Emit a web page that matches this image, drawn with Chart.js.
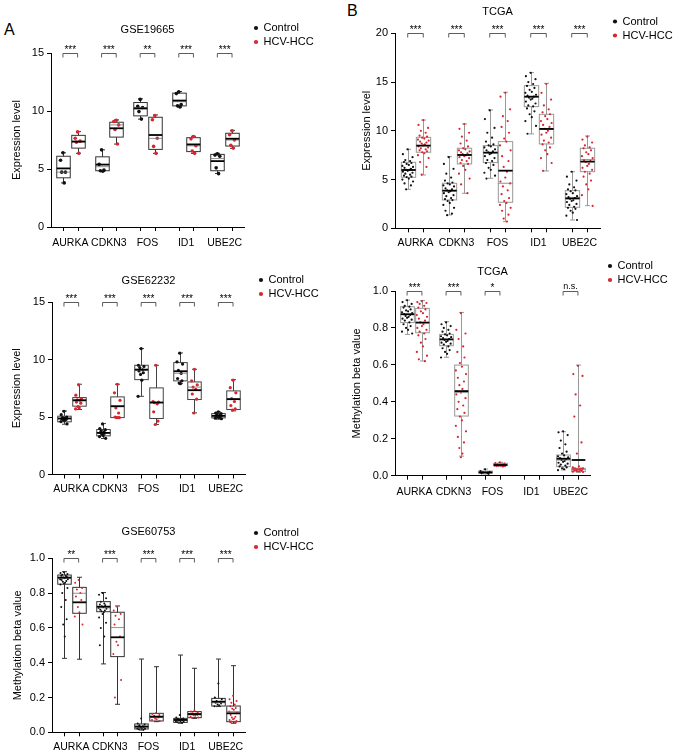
<!DOCTYPE html>
<html>
<head>
<meta charset="utf-8">
<script src="https://cdn.jsdelivr.net/npm/chart.js@4.4.1/dist/chart.umd.min.js"></script>
<style>
  body { margin: 0; background: #fff; overflow: hidden; }
  #fig { position: relative; width: 677px; height: 754px; font-family: "Liberation Sans", Arial, sans-serif; }
  .panel { position: absolute; }
  .tag { position: absolute; font-size: 16px; line-height: 16px; color: #000; }
</style>
</head>
<body>
<div id="fig">
  <div class="tag" style="left:4px;top:22px">A</div>
  <div class="tag" style="left:347px;top:3px">B</div>
  <div class="panel" style="left:0;top:0"><canvas id="c1" width="315" height="250"></canvas></div>
  <div class="panel" style="left:0;top:250px"><canvas id="c2" width="320" height="248"></canvas></div>
  <div class="panel" style="left:0;top:500px"><canvas id="c3" width="315" height="254"></canvas></div>
  <div class="panel" style="left:340px;top:0"><canvas id="c4" width="334" height="252"></canvas></div>
  <div class="panel" style="left:340px;top:252px"><canvas id="c5" width="329" height="248"></canvas></div>
</div>
<script>
const genes = ['AURKA', 'CDKN3', 'FOS', 'ID1', 'UBE2C'];

// box summaries, one per gene: [min, q1, median, q3, max, mean]
const gse19665CtrlBox = [[3.8, 4.24, 4.73, 6.1, 6.4, 5.05], [4.8, 4.85, 5.2, 6.05, 6.65, 5.38], [9.3, 9.58, 10.3, 10.73, 11.05, 10.22], [10.33, 10.44, 10.8, 11.54, 11.68, 10.9], [4.61, 4.85, 5.9, 6.26, 6.35, 5.68]];
const gse19665HccBox = [[6.35, 6.8, 7.4, 7.9, 8.22, 7.36], [7.15, 7.75, 8.8, 9.03, 9.23, 8.51], [6.35, 6.69, 7.64, 9.46, 9.66, 7.93], [6.35, 6.5, 7.0, 7.7, 7.82, 7.12], [6.78, 6.98, 7.5, 8.08, 8.33, 7.61]];
const gse19665CtrlPts = [[6.4, 5.76, 4.73, 4.73, 3.8], [6.65, 5.4, 4.9, 4.85, 4.8], [11.0, 10.4, 10.3, 9.95, 9.3], [11.65, 11.5, 10.55, 10.45, 10.35], [6.3, 6.2, 6.1, 5.1, 4.6]];
const gse19665HccPts = [[8.2, 7.65, 7.4, 7.3, 6.35], [9.2, 9.1, 8.8, 8.4, 7.15], [9.6, 9.25, 7.65, 6.95, 6.35], [7.8, 7.6, 7.0, 6.55, 6.35], [8.3, 7.95, 7.5, 7.05, 6.8]];
const gse19665Sig = ['***', '***', '**', '***', '***'];

const gse62232CtrlBox = [[4.37, 4.58, 4.87, 5.07, 5.53, 4.87], [3.13, 3.36, 3.62, 3.91, 4.43, 3.62], [6.8, 8.25, 9.05, 9.5, 10.95, 9.12], [7.9, 8.14, 8.8, 9.73, 10.57, 8.98], [4.81, 4.92, 5.1, 5.3, 5.44, 5.1]];
const gse62232HccBox = [[5.65, 5.94, 6.4, 6.69, 7.85, 6.46], [4.92, 4.95, 5.9, 6.75, 7.85, 5.94], [4.34, 4.87, 6.25, 7.53, 9.5, 6.26], [5.36, 6.52, 7.6, 8.05, 9.15, 7.33], [5.53, 5.65, 6.6, 7.27, 8.25, 6.55]];
const gse62232CtrlPts = [[5.5, 5.2, 5.0, 4.95, 4.9, 4.85, 4.8, 4.75, 4.7, 4.6, 4.4], [4.4, 4.0, 3.9, 3.8, 3.7, 3.65, 3.6, 3.5, 3.4, 3.3, 3.15], [10.95, 9.5, 9.4, 9.3, 9.1, 9.0, 8.85, 8.7, 8.2, 6.8], [10.55, 9.8, 9.6, 9.05, 8.8, 8.35, 8.15, 7.95, 7.9], [5.45, 5.35, 5.3, 5.2, 5.15, 5.1, 5.05, 5.0, 4.95, 4.9, 4.85]];
const gse62232HccPts = [[7.8, 6.9, 6.6, 6.5, 6.45, 6.3, 6.2, 5.9, 5.8, 5.7], [7.85, 7.1, 6.45, 5.8, 5.35, 5.0, 4.95, 4.95, 4.95], [9.5, 6.35, 6.3, 6.25, 6.15, 5.45, 4.65, 4.35], [9.15, 8.15, 7.8, 7.6, 7.4, 7.0, 6.55, 5.35], [8.2, 7.55, 7.1, 6.6, 6.35, 6.0, 5.7, 5.6]];
const gse62232Sig = ['***', '***', '***', '***', '***'];

const gse60753CtrlBox = [[0.425, 0.851, 0.885, 0.904, 0.923, 0.889], [0.393, 0.693, 0.715, 0.751, 0.803, 0.722], [0.013, 0.019, 0.03, 0.048, 0.421, 0.033], [0.052, 0.057, 0.07, 0.08, 0.444, 0.071], [0.148, 0.151, 0.17, 0.195, 0.421, 0.176]];
const gse60753HccBox = [[0.42, 0.684, 0.799, 0.833, 0.891, 0.747], [0.161, 0.435, 0.602, 0.69, 0.726, 0.546], [0.061, 0.065, 0.085, 0.109, 0.377, 0.09], [0.08, 0.084, 0.1, 0.119, 0.368, 0.105], [0.052, 0.061, 0.119, 0.151, 0.383, 0.109]];
const gse60753CtrlPts = [[0.92, 0.915, 0.91, 0.905, 0.9, 0.9, 0.895, 0.89, 0.885, 0.88, 0.88, 0.875, 0.87, 0.865, 0.86, 0.855, 0.85, 0.83, 0.8, 0.76, 0.72, 0.65, 0.62, 0.55], [0.8, 0.79, 0.77, 0.75, 0.74, 0.735, 0.73, 0.725, 0.72, 0.715, 0.71, 0.705, 0.7, 0.695, 0.69, 0.68, 0.66, 0.63, 0.6, 0.55, 0.5], [0.08, 0.05, 0.045, 0.04, 0.035, 0.033, 0.03, 0.028, 0.025, 0.022, 0.02, 0.018, 0.015], [0.1, 0.085, 0.08, 0.078, 0.075, 0.072, 0.07, 0.068, 0.065, 0.062, 0.06, 0.058, 0.055], [0.28, 0.2, 0.19, 0.18, 0.175, 0.17, 0.165, 0.16, 0.155, 0.15]];
const gse60753HccPts = [[0.875, 0.86, 0.83, 0.82, 0.8, 0.78, 0.76, 0.72, 0.69, 0.665, 0.62], [0.72, 0.7, 0.68, 0.67, 0.65, 0.62, 0.55, 0.52, 0.5, 0.45, 0.3, 0.2], [0.11, 0.105, 0.1, 0.095, 0.09, 0.088, 0.085, 0.08, 0.075, 0.07, 0.065], [0.125, 0.12, 0.115, 0.11, 0.108, 0.105, 0.1, 0.098, 0.095, 0.09, 0.085, 0.082], [0.21, 0.19, 0.18, 0.17, 0.16, 0.15, 0.14, 0.135, 0.13, 0.12, 0.11, 0.1, 0.09, 0.085, 0.08, 0.075, 0.07, 0.065, 0.062, 0.06, 0.058, 0.055]];
const gse60753Sig = ['**', '***', '***', '***', '***'];

const tcgaExprCtrlBox = [[4.0, 5.23, 5.98, 6.77, 8.1, 5.98], [1.37, 2.91, 3.86, 4.62, 7.35, 3.86], [5.13, 6.74, 7.76, 8.48, 12.14, 7.76], [9.68, 12.48, 13.5, 14.63, 15.97, 13.5], [0.85, 2.15, 3.0, 3.86, 5.81, 3.08]];
const tcgaExprHccBox = [[5.47, 7.8, 8.48, 9.33, 11.1, 8.48], [3.59, 6.6, 7.52, 8.21, 10.7, 7.52], [0.68, 2.67, 4.62, 8.89, 13.95, 5.91], [5.88, 8.65, 10.19, 11.69, 14.87, 10.19], [2.32, 5.81, 7.05, 8.21, 9.47, 6.84]];
const tcgaExprCtrlPts = [
  [8.1, 7.6, 7.3, 7.0, 6.9, 6.8, 6.7, 6.6, 6.5, 6.4, 6.3, 6.2, 6.1, 6.0, 6.0, 5.9, 5.8, 5.7, 5.6, 5.5, 5.4, 5.3, 5.25, 5.1, 5.0, 4.8, 4.6, 4.4, 4.0],
  [7.3, 6.6, 6.1, 5.6, 5.2, 4.9, 4.7, 4.6, 4.5, 4.4, 4.3, 4.1, 4.0, 3.9, 3.8, 3.7, 3.6, 3.4, 3.3, 3.1, 3.0, 2.9, 2.8, 2.6, 2.4, 2.1, 1.8, 1.5, 1.35],
  [12.1, 11.2, 10.3, 9.8, 9.3, 8.9, 8.6, 8.5, 8.4, 8.3, 8.1, 8.0, 7.9, 7.8, 7.7, 7.6, 7.4, 7.2, 7.0, 6.9, 6.7, 6.5, 6.2, 6.0, 5.7, 5.4, 5.1],
  [15.95, 15.6, 15.3, 15.0, 14.8, 14.6, 14.4, 14.2, 14.0, 13.9, 13.7, 13.6, 13.5, 13.4, 13.3, 13.2, 13.0, 12.8, 12.6, 12.5, 12.3, 12.0, 11.7, 11.4, 11.0, 10.5, 9.7],
  [5.8, 5.3, 4.9, 4.5, 4.2, 4.0, 3.9, 3.8, 3.6, 3.5, 3.3, 3.2, 3.1, 3.0, 2.9, 2.8, 2.7, 2.5, 2.4, 2.2, 2.1, 2.0, 1.8, 1.6, 1.3, 0.85]
];
const tcgaExprHccPts = [
  [11.1, 10.6, 10.3, 10.0, 9.8, 9.5, 9.4, 9.3, 9.2, 9.1, 9.0, 8.9, 8.8, 8.7, 8.6, 8.5, 8.4, 8.3, 8.2, 8.1, 8.0, 7.9, 7.8, 7.7, 7.5, 7.2, 6.8, 6.3, 5.5],
  [10.7, 10.2, 9.8, 9.4, 9.0, 8.7, 8.4, 8.2, 8.1, 8.0, 7.9, 7.8, 7.7, 7.6, 7.5, 7.4, 7.3, 7.2, 7.0, 6.9, 6.7, 6.6, 6.4, 6.0, 5.6, 5.1, 4.5, 3.6],
  [13.9, 13.5, 12.2, 11.5, 11.0, 10.4, 9.8, 9.2, 8.9, 8.5, 8.0, 7.4, 6.9, 6.3, 5.8, 5.2, 4.8, 4.6, 4.3, 3.9, 3.5, 3.1, 2.8, 2.6, 2.4, 2.1, 1.8, 1.4, 1.0, 0.7],
  [14.8, 13.9, 13.2, 12.6, 12.2, 11.9, 11.7, 11.5, 11.2, 11.0, 10.8, 10.6, 10.4, 10.2, 10.0, 9.8, 9.6, 9.3, 9.0, 8.8, 8.6, 8.3, 8.0, 7.6, 7.2, 6.7, 5.9],
  [9.4, 9.1, 8.8, 8.5, 8.3, 8.2, 8.0, 7.8, 7.6, 7.4, 7.2, 7.0, 6.9, 6.8, 6.6, 6.4, 6.2, 6.0, 5.8, 5.6, 5.3, 4.9, 4.5, 4.0, 3.4, 2.3]
];
const tcgaExprSig = ['***', '***', '***', '***', '***'];

const tcgaMethCtrlBox = [[0.765, 0.829, 0.874, 0.915, 0.951, 0.874], [0.641, 0.704, 0.738, 0.765, 0.834, 0.738], [0.009, 0.013, 0.018, 0.025, 0.036, 0.018], null, [0.031, 0.049, 0.085, 0.112, 0.238, 0.092]];
const tcgaMethHccBox = [[0.621, 0.774, 0.829, 0.906, 0.948, 0.829], [0.106, 0.323, 0.45, 0.599, 0.884, 0.458], [0.049, 0.054, 0.058, 0.067, 0.072, 0.058], null, [0.018, 0.022, 0.035, 0.04, 0.599, 0.085]];
const tcgaMethCtrlPts = [
  [0.95, 0.94, 0.93, 0.92, 0.915, 0.91, 0.9, 0.895, 0.89, 0.885, 0.88, 0.875, 0.87, 0.865, 0.86, 0.855, 0.85, 0.845, 0.84, 0.83, 0.82, 0.81, 0.8, 0.79, 0.78, 0.77],
  [0.83, 0.82, 0.81, 0.8, 0.79, 0.78, 0.77, 0.765, 0.76, 0.755, 0.75, 0.745, 0.74, 0.735, 0.73, 0.725, 0.72, 0.715, 0.71, 0.7, 0.69, 0.68, 0.67, 0.66, 0.64],
  [0.035, 0.025, 0.02, 0.018, 0.015, 0.013, 0.01],
  [],
  [0.24, 0.235, 0.22, 0.19, 0.17, 0.15, 0.13, 0.12, 0.11, 0.105, 0.1, 0.095, 0.09, 0.085, 0.08, 0.075, 0.07, 0.065, 0.06, 0.055, 0.05, 0.045, 0.04, 0.035, 0.03]
];
const tcgaMethHccPts = [
  [0.945, 0.94, 0.935, 0.93, 0.92, 0.91, 0.9, 0.89, 0.88, 0.87, 0.86, 0.85, 0.84, 0.83, 0.82, 0.81, 0.8, 0.79, 0.78, 0.77, 0.76, 0.74, 0.72, 0.7, 0.67, 0.65, 0.63, 0.62],
  [0.88, 0.79, 0.77, 0.74, 0.7, 0.67, 0.64, 0.61, 0.59, 0.57, 0.55, 0.53, 0.51, 0.49, 0.47, 0.45, 0.44, 0.42, 0.4, 0.38, 0.36, 0.34, 0.32, 0.3, 0.27, 0.24, 0.21, 0.18, 0.15, 0.12, 0.1],
  [0.072, 0.068, 0.065, 0.062, 0.06, 0.058, 0.057, 0.056, 0.055, 0.054, 0.053, 0.052, 0.05],
  [],
  [0.595, 0.55, 0.54, 0.44, 0.38, 0.32, 0.18, 0.12, 0.05, 0.045, 0.04, 0.04, 0.038, 0.036, 0.035, 0.035, 0.034, 0.033, 0.032, 0.03, 0.03, 0.028, 0.026, 0.024, 0.022, 0.02]
];
const tcgaMethSig = ['***', '***', '*', null, 'n.s.'];

const FONT = "'Liberation Sans', Arial, sans-serif";
const RED = '#d7262e';
const OFF = 0.19;     // control / HCV-HCC offset from the gene position
const BOXW = 0.35;    // box width in x units
const jitter = [0, -0.9, 0.9, -0.45, 0.45, -0.7, 0.7, -0.2, 0.2, -1, 1, -0.6, 0.6, -0.3, 0.3];

Chart.defaults.font.family = FONT;
Chart.defaults.color = '#000';

function toPoints(groups, off, spread) {
  const out = [];
  groups.forEach((vals, i) => {
    vals.forEach((v, j) => out.push({ x: i + off + jitter[j % jitter.length] * spread, y: v }));
  });
  return out;
}

function boxPlugin(cfg) {
  const series = [[cfg.ctrlBox, -OFF], [cfg.hccBox, OFF]];
  return {
    id: 'boxes',
    beforeDatasetsDraw(chart) {
      const { ctx, scales: { x, y } } = chart;
      const half = x.getPixelForValue(BOXW / 2) - x.getPixelForValue(0);
      ctx.save();
      ctx.strokeStyle = cfg.boxColor;
      ctx.lineWidth = 1;
      series.forEach(([boxes, off]) => {
        boxes.forEach((b, i) => {
          if (!b) return;
          const cx = Math.round(x.getPixelForValue(i + off)) + 0.5;
          const [mn, q1, , q3, mx] = b.map(v => y.getPixelForValue(v));
          ctx.beginPath();
          ctx.moveTo(cx, mx); ctx.lineTo(cx, q3);
          ctx.moveTo(cx, q1); ctx.lineTo(cx, mn);
          ctx.moveTo(cx - 2.5, mx); ctx.lineTo(cx + 2.5, mx);
          ctx.moveTo(cx - 2.5, mn); ctx.lineTo(cx + 2.5, mn);
          ctx.stroke();
          ctx.strokeRect(cx - half, q3, half * 2, q1 - q3);
        });
      });
      ctx.restore();
    },
    afterDatasetsDraw(chart) {
      const { ctx, scales: { x, y } } = chart;
      const half = x.getPixelForValue(BOXW / 2) - x.getPixelForValue(0);
      ctx.save();
      series.forEach(([boxes, off]) => {
        boxes.forEach((b, i) => {
          if (!b) return;
          const cx = Math.round(x.getPixelForValue(i + off)) + 0.5;
          const md = y.getPixelForValue(b[2]);
          const mean = y.getPixelForValue(b[5]);
          ctx.strokeStyle = '#777';
          ctx.lineWidth = 0.8;
          ctx.beginPath(); ctx.moveTo(cx - half, md); ctx.lineTo(cx + half, md); ctx.stroke();
          ctx.strokeStyle = '#000';
          ctx.lineWidth = 1.8;
          ctx.beginPath(); ctx.moveTo(cx - half, mean); ctx.lineTo(cx + half, mean); ctx.stroke();
        });
      });
      ctx.restore();
    },
    afterDraw(chart) {
      const { ctx, chartArea, scales: { x, y } } = chart;
      ctx.save();
      // tick marks under every box position
      ctx.strokeStyle = '#000';
      ctx.lineWidth = 1;
      ctx.beginPath();
      genes.forEach((g, i) => {
        [-OFF, OFF].forEach(off => {
          const px = Math.round(x.getPixelForValue(i + off)) + 0.5;
          ctx.moveTo(px, chartArea.bottom); ctx.lineTo(px, chartArea.bottom + 4);
        });
      });
      ctx.stroke();
      // significance brackets
      const top = Math.round(y.getPixelForValue(cfg.yMax)) + 0.5;
      ctx.strokeStyle = '#333';
      ctx.lineWidth = 0.8;
      ctx.fillStyle = '#000';
      ctx.textAlign = 'center';
      ctx.textBaseline = 'alphabetic';
      cfg.sig.forEach((s, i) => {
        if (!s) return;
        const x1 = x.getPixelForValue(i - OFF), x2 = x.getPixelForValue(i + OFF);
        ctx.beginPath();
        ctx.moveTo(x1, top + 4); ctx.lineTo(x1, top); ctx.lineTo(x2, top); ctx.lineTo(x2, top + 4);
        ctx.stroke();
        ctx.font = (s === 'n.s.' ? '9px ' : '10px ') + FONT;
        ctx.fillText(s, (x1 + x2) / 2, top - (s === 'n.s.' ? 2.5 : 0.5));
      });
      ctx.restore();
    }
  };
}

function makePanel(id, cfg) {
  new Chart(document.getElementById(id), {
    type: 'scatter',
    data: {
      datasets: [
        { label: 'Control', data: toPoints(cfg.ctrlPts, -OFF, cfg.spread), backgroundColor: '#111', borderColor: '#111', borderWidth: 0, pointRadius: cfg.r, pointHoverRadius: cfg.r },
        { label: 'HCV-HCC', data: toPoints(cfg.hccPts, OFF, cfg.spread), backgroundColor: RED, borderColor: RED, borderWidth: 0, pointRadius: cfg.r, pointHoverRadius: cfg.r }
      ]
    },
    options: {
      responsive: false,
      animation: false,
      events: [],
      layout: { padding: { left: cfg.pl, right: 0, top: 0, bottom: 0 } },
      plugins: {
        tooltip: { enabled: false },
        title: {
          display: true, fullSize: false, text: cfg.title, color: '#000',
          font: { size: 11, weight: 'normal' },
          padding: { top: cfg.tTop + 2, bottom: cfg.tBot - 2 }
        },
        legend: {
          position: 'right', align: 'start', maxWidth: 64,
          title: { display: true, text: ' ', font: { size: 1, lineHeight: 1 }, padding: { top: cfg.legTop - 1, bottom: 0 } },
          labels: { usePointStyle: true, pointStyle: 'circle', boxWidth: 4, boxHeight: 3, padding: 3, color: '#000', font: { size: 11 } }
        }
      },
      scales: {
        x: {
          type: 'linear', min: -0.5, max: 4.5,
          afterBuildTicks: s => { s.ticks = genes.map((g, i) => ({ value: i })); },
          afterFit: s => { s.height = cfg.xH; },
          grid: { display: false },
          border: { color: '#000', width: 1 },
          ticks: { autoSkip: false, maxRotation: 0, color: '#000', font: { size: 10.5 }, padding: cfg.xPad, callback: v => genes[v] }
        },
        y: {
          min: 0, max: cfg.yMax,
          afterFit: s => { s.width = cfg.yW; },
          border: { color: '#000', width: 1 },
          grid: { drawOnChartArea: false, drawTicks: true, tickLength: 4, color: '#000' },
          ticks: { stepSize: cfg.step, color: '#000', font: { size: 11 }, padding: 3, callback: v => cfg.dec ? v.toFixed(1) : v },
          title: { display: true, text: cfg.yTitle, color: '#000', font: { size: 11 }, padding: { top: cfg.yTitlePad, bottom: 0 } }
        },
        gap: {
          type: 'linear', axis: 'y', position: 'right', display: true,
          grid: { display: false }, border: { display: false }, ticks: { display: false },
          afterFit: s => { s.width = cfg.gap; }
        }
      }
    },
    plugins: [boxPlugin(cfg)]
  });
}

makePanel('c1', {
  title: 'GSE19665', yTitle: 'Expression level', yMax: 15, step: 5, dec: false,
  ctrlBox: gse19665CtrlBox, hccBox: gse19665HccBox, ctrlPts: gse19665CtrlPts, hccPts: gse19665HccPts, sig: gse19665Sig,
  r: 1.8, spread: 0.07, boxColor: '#333',
  pl: 8, yW: 43, yTitlePad: 2.4, tTop: 21.4, tBot: 18.4, legTop: 19.5, gap: 7, xH: 23, xPad: 2
});
makePanel('c2', {
  title: 'GSE62232', yTitle: 'Expression level', yMax: 15, step: 5, dec: false,
  ctrlBox: gse62232CtrlBox, hccBox: gse62232HccBox, ctrlPts: gse62232CtrlPts, hccPts: gse62232HccPts, sig: gse62232Sig,
  r: 1.6, spread: 0.08, boxColor: '#444',
  pl: 8, yW: 44, yTitlePad: 2.4, tTop: 22.4, tBot: 16.4, legTop: 21.5, gap: 11, xH: 23.5, xPad: 0.5
});
makePanel('c3', {
  title: 'GSE60753', yTitle: 'Methylation beta value', yMax: 1, step: 0.2, dec: true,
  ctrlBox: gse60753CtrlBox, hccBox: gse60753HccBox, ctrlPts: gse60753CtrlPts, hccPts: gse60753HccPts, sig: gse60753Sig,
  r: 1, spread: 0.1, boxColor: '#333',
  pl: 8, yW: 44, yTitlePad: 3, tTop: 23.4, tBot: 21.7, legTop: 24.5, gap: 6, xH: 21.7, xPad: 0.5
});
makePanel('c4', {
  title: 'TCGA', yTitle: 'Expression level', yMax: 20, step: 5, dec: false,
  ctrlBox: tcgaExprCtrlBox, hccBox: tcgaExprHccBox, ctrlPts: tcgaExprCtrlPts, hccPts: tcgaExprHccPts, sig: tcgaExprSig,
  r: 1.1, spread: 0.13, boxColor: '#999',
  pl: 18, yW: 37, yTitlePad: 2.4, tTop: 3.4, tBot: 16.7, legTop: 13, gap: 10, xH: 23.7, xPad: 0.5
});
makePanel('c5', {
  title: 'TCGA', yTitle: 'Methylation beta value', yMax: 1, step: 0.2, dec: true,
  ctrlBox: tcgaMethCtrlBox, hccBox: tcgaMethHccBox, ctrlPts: tcgaMethCtrlPts, hccPts: tcgaMethHccPts, sig: tcgaMethSig,
  r: 1.1, spread: 0.13, boxColor: '#999',
  pl: 8, yW: 47, yTitlePad: 2.4, tTop: 11.4, tBot: 14.4, legTop: 5.5, gap: 15, xH: 24.3, xPad: 2
});
</script>
</body>
</html>
